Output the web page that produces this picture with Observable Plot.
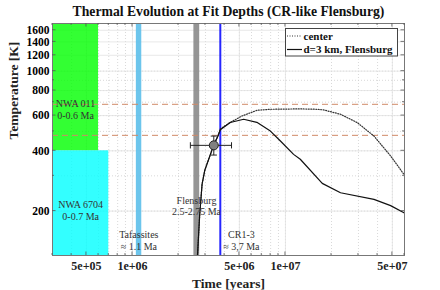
<!DOCTYPE html>
<html><head><meta charset="utf-8">
<script src="https://cdn.jsdelivr.net/npm/d3@7"></script>
<script src="https://cdn.jsdelivr.net/npm/@observablehq/plot@0.6"></script>
<style>body{margin:0;background:#fff} svg{display:block}</style>
</head><body><div id="chart"></div>
<script>
// ---- data ----
const xTicks = [5e5, 1e6, 5e6, 1e7, 5e7];
const xTickLabels = ["5e+05", "1e+06", "5e+06", "1e+07", "5e+07"];
const yTicks = [200, 400, 600, 800, 1000, 1200, 1400, 1600];

// d=3 km, Flensburg (solid)
const flensTime = [2.66e6, 2.75e6, 2.85e6, 2.97e6, 3.39e6, 3.62e6, 3.75e6, 4.36e6, 5.33e6, 6.5e6, 7.97e6, 9.27e6, 1.13e7, 1.25e7, 1.74e7, 2.29e7, 3.79e7, 4.87e7, 5.95e7];
const flensTemp = [120, 192, 272, 320, 426, 474, 510, 554, 575, 555, 502, 448, 384, 363, 275, 247, 229, 213, 196];
// center (dotted)
const centerTime = [2.66e6, 2.75e6, 2.85e6, 2.97e6, 3.39e6, 3.62e6, 3.75e6, 4.36e6, 5.2e6, 6.53e6, 8e6, 1.25e7, 1.6e7, 1.78e7, 2.29e7, 2.95e7, 3.79e7, 4.87e7, 5.95e7];
const centerTemp = [120, 192, 272, 320, 426, 474, 515, 555, 597, 638, 645, 648, 645, 640, 609, 553, 474, 377, 305];

// reference temperature levels (dashed)
const refLevels = [683, 478];

// measured point with error bars
const pointTime = [3.4e6], pointTemp = [426];
const pointTimeLo = [2.39e6], pointTimeHi = [4.44e6];
const pointTempLo = [381], pointTempHi = [474];

// meteorite age boxes
const boxEnd = [6e5, 7e5];
const boxTLow = [400, 120];
const boxTHigh = [1730, 400];
const boxColor = ["#00ff00", "#00ffff"];
const boxLabel = ["NWA 011\n0-0.6 Ma", "NWA 6704\n0-0.7 Ma"];
const boxLabelT = [647, 202];

// age bands
const bandStart = [1.06e6, 2.52e6];
const bandEnd = [1.15e6, 2.75e6];
const bandColor = ["#5cbfea", "#8a8a8a"];
const crAge = [3.75e6];

const annLabel = ["Tafassites\n\u2248 1.1 Ma", "Flensburg\n2.5-2.75 Ma", "CR1-3\n\u2248 3,7 Ma"];
const annTime = [1.1e6, 2.62e6, 5.15e6];
const annTemp = [143, 213, 143];

// ---- build ----
const xDomain = [3e5, 6e7], yDomain = [120, 1730];
const serif = "Liberation Serif, Times New Roman, serif";
const flens = flensTime.map((t, i) => ({t, T: flensTemp[i]}));
const center = centerTime.map((t, i) => ({t, T: centerTemp[i]}));
const boxes = boxEnd.map((e, i) => ({x2: e, y1: boxTLow[i], y2: boxTHigh[i], c: boxColor[i], label: boxLabel[i], lt: boxLabelT[i]}));
const bands = bandStart.map((s, i) => ({x1: s, x2: bandEnd[i], c: bandColor[i]}));
const anns = annLabel.map((l, i) => ({l, t: annTime[i], T: annTemp[i]}));
const pt = pointTime.map((t, i) => ({t, T: pointTemp[i], tl: pointTimeLo[i], th: pointTimeHi[i], Tl: pointTempLo[i], Th: pointTempHi[i]}));
const xTickData = xTicks.map((v, i) => ({v, label: xTickLabels[i]}));

const minorX = [];
for (let e = 5; e <= 7; e++) for (let m = 1; m <= 9; m++) { const v = m * 10 ** e; if (v >= xDomain[0] && v <= xDomain[1]) minorX.push(v); }
const minorY = [];
for (let v = 200; v <= 1000; v += 100) minorY.push(v);

const vbar = {draw(ctx, size) { const r = Math.sqrt(size) / 2; ctx.moveTo(0, -r); ctx.lineTo(0, r); }};
const hbar = {draw(ctx, size) { const r = Math.sqrt(size) / 2; ctx.moveTo(-r, 0); ctx.lineTo(r, 0); }};

const chart = Plot.plot({
  width: 440, height: 290,
  marginLeft: 52, marginRight: 36, marginTop: 23, marginBottom: 35,
  style: {fontFamily: serif, background: "#fff"},
  x: {type: "log", domain: xDomain, axis: null},
  y: {type: "log", domain: yDomain},
  marks: [
    Plot.ruleX(minorX, {stroke: "#cfcfcf", strokeDasharray: "1,2", strokeWidth: 0.8}),
    Plot.ruleY(minorY, {stroke: "#cfcfcf", strokeDasharray: "1,2", strokeWidth: 0.8}),
    Plot.ruleX(xTicks, {stroke: "#e2e2e2", strokeWidth: 0.8}),
    Plot.ruleY(yTicks, {stroke: "#e2e2e2", strokeWidth: 0.8}),
    Plot.rect(boxes, {x1: xDomain[0], x2: "x2", y1: "y1", y2: "y2", fill: d => d.c, fillOpacity: 0.8}),
    Plot.rect(bands, {x1: "x1", x2: "x2", y1: yDomain[0], y2: yDomain[1], fill: d => d.c, fillOpacity: 0.9}),
    Plot.ruleX(crAge, {stroke: "#0000ff", strokeWidth: 2, strokeOpacity: 0.85}),
    Plot.ruleY(refLevels, {stroke: "#d08a68", strokeDasharray: "6,4", strokeWidth: 1}),
    Plot.line(center, {x: "t", y: "T", stroke: "#333", strokeDasharray: "1,1.5", strokeWidth: 1.2}),
    Plot.line(flens, {x: "t", y: "T", stroke: "#111", strokeWidth: 1.2}),
    Plot.link(pt, {x1: "tl", x2: "th", y1: "T", y2: "T", stroke: "#222", strokeWidth: 1}),
    Plot.link(pt, {x1: "t", x2: "t", y1: "Tl", y2: "Th", stroke: "#222", strokeWidth: 1}),
    Plot.dot(pt, {x: "tl", y: "T", symbol: vbar, r: 3.5, stroke: "#222", strokeWidth: 1}),
    Plot.dot(pt, {x: "th", y: "T", symbol: vbar, r: 3.5, stroke: "#222", strokeWidth: 1}),
    Plot.dot(pt, {x: "t", y: "Tl", symbol: hbar, r: 3.5, stroke: "#222", strokeWidth: 1}),
    Plot.dot(pt, {x: "t", y: "Th", symbol: hbar, r: 3.5, stroke: "#222", strokeWidth: 1}),
    Plot.dot(pt, {x: "t", y: "T", r: 4.5, fill: "#808080", stroke: "#222", strokeWidth: 1}),
    Plot.text(boxes, {x: d => Math.sqrt(xDomain[0] * d.x2), y: "lt", text: "label", fontSize: 10, fill: "#333", lineHeight: 1.16, lineAnchor: "middle"}),
    Plot.text(anns, {x: "t", y: "T", text: "l", fontSize: 10, fill: "#333", lineHeight: 1.16, lineAnchor: "middle"}),
    Plot.frame({stroke: "#777", strokeWidth: 1}),
    Plot.text(xTickData, {x: "v", text: "label", frameAnchor: "bottom", dy: 11, fontSize: 12, fontWeight: "bold", fill: "#222", lineAnchor: "middle"}),
    Plot.axisY({ticks: yTicks, tickFormat: d => String(d), tickSize: 0, tickPadding: 3, fontSize: 11.5, fontWeight: "bold", label: null}),
    Plot.text(["Time [years]"], {frameAnchor: "bottom", dy: 28, fontSize: 13.5, fontWeight: "bold", fill: "#222", lineAnchor: "middle"}),
    Plot.text(["Temperature [K]"], {frameAnchor: "left", dx: -39, rotate: -90, fontSize: 13.5, fontWeight: "bold", fill: "#222", lineAnchor: "middle"}),
    Plot.text(["Thermal Evolution at Fit Depths (CR-like Flensburg)"], {frameAnchor: "top", dy: -12, fontSize: 13.7, fontWeight: "bold", fill: "#111", lineAnchor: "middle"})
  ]
});

const svg = d3.select(chart);
const sx = chart.scale("x"), sy = chart.scale("y");
const fx0 = sx.apply(xDomain[0]), fx1 = sx.apply(xDomain[1]);
const fy0 = sy.apply(yDomain[0]), fy1 = sy.apply(yDomain[1]);

// inward axis ticks on all four sides (MATLAB box style)
const tk = svg.append("g").attr("stroke", "#555").attr("stroke-width", 0.8);
const allY = Array.from(new Set([...minorY, ...yTicks]));
allY.forEach(v => {
  const y = sy.apply(v), len = yTicks.includes(v) ? 3.5 : 2;
  tk.append("line").attr("x1", fx0).attr("x2", fx0 + len).attr("y1", y).attr("y2", y);
  tk.append("line").attr("x1", fx1).attr("x2", fx1 - len).attr("y1", y).attr("y2", y);
});
minorX.forEach(v => {
  const x = sx.apply(v), len = xTicks.includes(v) ? 3.5 : 2;
  tk.append("line").attr("x1", x).attr("x2", x).attr("y1", fy0).attr("y2", fy0 - len);
  tk.append("line").attr("x1", x).attr("x2", x).attr("y1", fy1).attr("y2", fy1 + len);
});

// legend (drawn in the upper right of the frame)
const lg = svg.append("g").attr("font-family", serif).attr("font-size", 11).attr("font-weight", "bold").attr("text-anchor", "start");
lg.append("rect").attr("x", 285.5).attr("y", 28.5).attr("width", 112).attr("height", 27.5).attr("fill", "#fff").attr("stroke", "#444").attr("stroke-width", 1);
const legendItems = [
  {label: "center", dash: "1,1.5", color: "#333"},
  {label: "d=3 km, Flensburg", dash: null, color: "#111"}
];
legendItems.forEach((d, i) => {
  const y = 36 + i * 13.5;
  lg.append("line").attr("x1", 287).attr("x2", 302).attr("y1", y).attr("y2", y).attr("stroke", d.color).attr("stroke-width", 1.2).attr("stroke-dasharray", d.dash);
  lg.append("text").attr("x", 303.5).attr("y", y).attr("dy", "0.35em").attr("fill", "#111").attr("text-anchor", "start").text(d.label);
});

document.getElementById("chart").appendChild(chart);
</script>
</body></html>
